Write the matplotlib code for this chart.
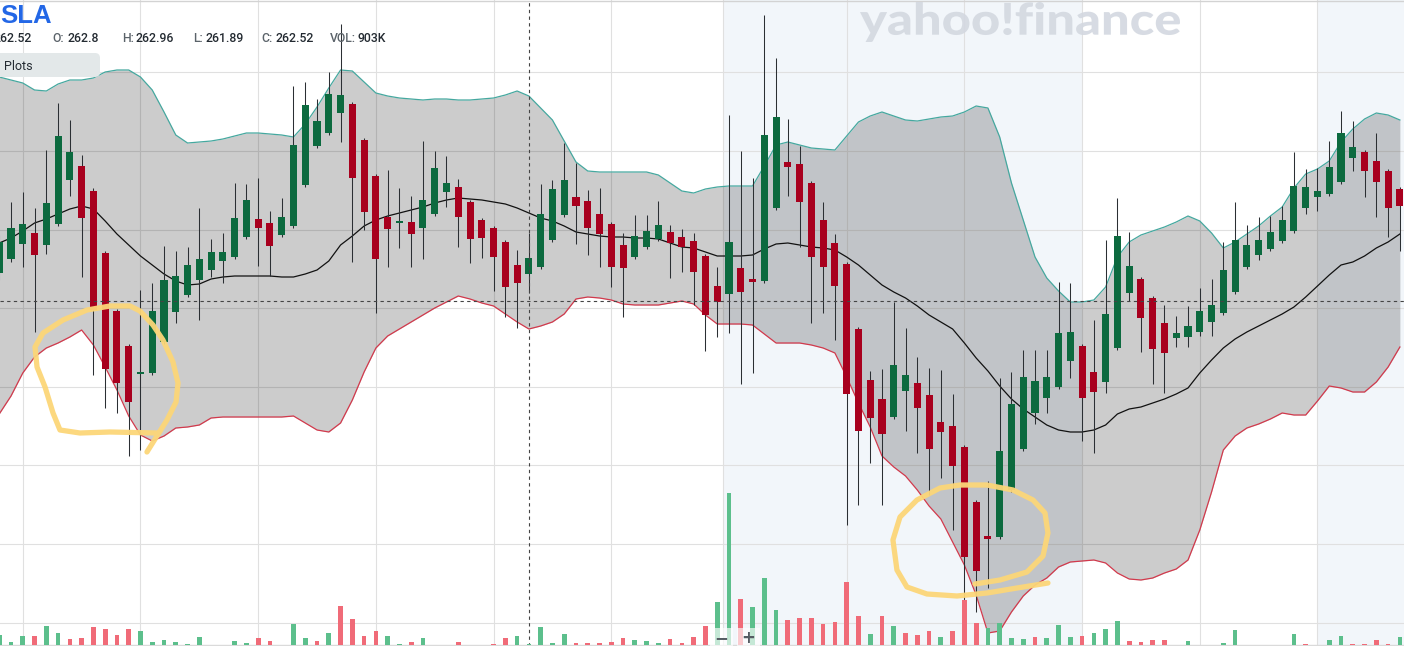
import matplotlib
matplotlib.use("Agg")
import matplotlib.pyplot as plt
import numpy as np
from matplotlib.patches import FancyBboxPatch, Rectangle, PathPatch
from matplotlib.textpath import TextPath
from matplotlib.font_manager import FontProperties
from matplotlib.transforms import Affine2D

# 1-minute candles, TSLA
opens = [263.77, 263.91, 264.06, 264.17, 264.05, 264.26, 264.70, 264.84, 264.59, 263.97,
         263.39, 263.04, 262.76, 262.77, 263.08, 263.38, 263.55, 263.70, 263.80, 263.89,
         263.93, 264.13, 264.31, 264.27, 264.15, 264.24, 264.65, 265.04, 265.17, 265.37,
         265.46, 265.10, 264.74, 264.33, 264.27, 264.28, 264.22, 264.36, 264.58, 264.63,
         264.48, 264.30, 264.22, 264.08, 263.85, 263.76, 263.83, 264.10, 264.35, 264.53,
         264.49, 264.36, 264.26, 264.05, 263.93, 264.03, 264.11, 264.18, 264.13, 264.09,
         263.94, 263.64, 263.56, 263.82, 263.71, 263.69, 264.42, 264.88, 264.86, 264.67,
         264.30, 264.07, 263.86, 263.21, 262.70, 262.51, 262.33, 262.59, 262.67, 262.55,
         262.28, 262.24, 262.03, 261.48, 261.14, 261.13, 261.60, 262.01, 262.37, 262.52,
         262.63, 262.89, 263.04, 262.78, 262.68, 263.02, 263.57, 263.71, 263.52, 263.27,
         263.12, 263.13, 263.18, 263.28, 263.37, 263.58, 263.83, 263.95, 264.01, 264.09,
         264.19, 264.42, 264.53, 264.56, 264.68, 264.92, 264.98, 264.89, 264.79, 264.61]
highs = [264.15, 264.48, 264.58, 264.42, 265.00, 265.47, 265.30, 264.95, 264.62, 263.99,
         263.41, 263.06, 263.60, 263.67, 264.04, 263.99, 264.03, 264.42, 264.11, 264.17,
         264.67, 264.66, 264.72, 264.39, 264.52, 265.64, 265.68, 265.51, 265.78, 266.26,
         265.48, 265.12, 264.76, 264.80, 264.62, 264.54, 265.09, 264.99, 264.94, 264.71,
         264.50, 264.32, 264.24, 264.10, 264.00, 264.17, 264.66, 264.70, 265.07, 264.87,
         264.60, 264.62, 264.28, 264.17, 264.35, 264.35, 264.49, 264.25, 264.21, 264.17,
         263.96, 263.83, 265.35, 264.99, 264.72, 266.35, 265.92, 265.31, 265.04, 264.69,
         264.48, 264.16, 263.88, 263.23, 262.79, 262.81, 263.48, 263.22, 262.93, 262.82,
         262.80, 262.56, 262.05, 261.50, 261.69, 262.72, 262.78, 263.00, 263.00, 263.00,
         263.68, 263.67, 263.06, 263.30, 264.10, 264.52, 264.18, 263.73, 263.54, 263.45,
         263.34, 263.44, 263.62, 263.71, 264.08, 264.48, 264.25, 264.33, 264.34, 264.44,
         264.98, 264.81, 264.82, 265.09, 265.39, 265.29, 265.00, 265.17, 264.81, 264.63]
lows = [263.70, 263.88, 263.83, 263.18, 263.96, 264.24, 264.54, 263.73, 262.75, 262.42,
        262.37, 261.94, 262.00, 262.75, 263.06, 263.27, 263.53, 263.30, 263.73, 263.67,
        263.91, 264.11, 263.84, 263.74, 264.13, 264.22, 264.63, 265.02, 265.15, 265.08,
        263.88, 264.20, 263.37, 263.83, 264.02, 263.83, 263.91, 264.34, 264.43, 264.03,
        263.87, 263.92, 263.59, 263.33, 263.22, 263.57, 263.81, 264.08, 264.33, 264.06,
        263.95, 263.83, 263.63, 263.33, 263.91, 264.01, 264.09, 263.72, 263.78, 263.45,
        262.99, 263.13, 263.17, 262.66, 262.77, 263.67, 264.40, 264.54, 264.03, 263.27,
        263.37, 263.10, 261.25, 261.45, 261.87, 261.45, 262.31, 262.19, 261.97, 261.55,
        261.72, 261.20, 260.17, 260.38, 260.62, 261.11, 261.58, 261.99, 262.26, 262.37,
        262.61, 262.72, 262.09, 261.97, 262.57, 263.00, 263.49, 262.98, 262.66, 262.57,
        263.03, 263.03, 263.14, 263.14, 263.35, 263.56, 263.81, 263.90, 263.99, 264.07,
        264.17, 264.36, 264.39, 264.54, 264.66, 264.79, 264.53, 264.33, 264.13, 263.99]
closes = [264.08, 264.22, 264.26, 263.95, 264.47, 265.14, 264.98, 264.32, 263.40, 262.81,
          262.67, 262.48, 262.78, 263.39, 263.70, 263.74, 263.85, 263.91, 263.98, 263.98,
          264.32, 264.50, 264.22, 264.04, 264.33, 265.05, 265.45, 265.29, 265.56, 265.55,
          264.72, 264.38, 263.91, 264.21, 264.29, 264.16, 264.50, 264.82, 264.67, 264.33,
          264.11, 264.12, 263.93, 263.63, 263.67, 263.92, 264.36, 264.61, 264.70, 264.44,
          264.22, 264.16, 263.83, 263.82, 264.14, 264.19, 264.25, 264.07, 264.03, 263.78,
          263.35, 263.48, 264.08, 263.58, 263.68, 265.15, 265.33, 264.83, 264.48, 263.93,
          263.83, 263.64, 262.56, 262.19, 262.32, 262.16, 262.85, 262.75, 262.42, 262.01,
          262.18, 261.84, 260.93, 260.79, 261.11, 261.99, 262.46, 262.73, 262.69, 262.73,
          263.17, 263.18, 262.52, 262.58, 263.36, 264.14, 263.84, 263.32, 263.01, 262.97,
          263.17, 263.24, 263.39, 263.45, 263.80, 264.10, 264.05, 264.10, 264.18, 264.30,
          264.64, 264.63, 264.59, 264.83, 265.17, 265.03, 264.79, 264.68, 264.42, 264.44]

# Bollinger bands (20, 2) as shown
bb_upper = [265.73, 265.70, 265.67, 265.60, 265.59, 265.66, 265.70, 265.70, 265.72, 265.78,
            265.80, 265.80, 265.73, 265.60, 265.38, 265.15, 265.07, 265.08, 265.09, 265.11,
            265.14, 265.17, 265.17, 265.16, 265.15, 265.13, 265.26, 265.43, 265.62, 265.80,
            265.79, 265.68, 265.57, 265.54, 265.52, 265.51, 265.50, 265.51, 265.51, 265.50,
            265.50, 265.51, 265.52, 265.55, 265.59, 265.54, 265.42, 265.30, 265.09, 264.88,
            264.79, 264.78, 264.78, 264.78, 264.78, 264.78, 264.75, 264.67, 264.59, 264.57,
            264.61, 264.63, 264.64, 264.64, 264.64, 264.84, 265.05, 265.08, 265.05, 265.02,
            265.01, 265.00, 265.14, 265.28, 265.34, 265.38, 265.34, 265.30, 265.29, 265.31,
            265.33, 265.34, 265.38, 265.44, 265.42, 265.13, 264.67, 264.30, 263.93, 263.72,
            263.59, 263.48, 263.48, 263.50, 263.63, 263.93, 264.08, 264.15, 264.19, 264.23,
            264.28, 264.34, 264.29, 264.17, 264.02, 264.08, 264.16, 264.24, 264.34, 264.43,
            264.62, 264.76, 264.81, 264.89, 265.08, 265.21, 265.31, 265.37, 265.35, 265.30]
bb_mid = [264.07, 264.12, 264.19, 264.27, 264.31, 264.36, 264.41, 264.44, 264.41, 264.29,
          264.16, 264.05, 263.94, 263.85, 263.76, 263.69, 263.65, 263.66, 263.71, 263.73,
          263.74, 263.74, 263.74, 263.74, 263.73, 263.73, 263.76, 263.80, 263.89, 264.05,
          264.14, 264.24, 264.30, 264.34, 264.37, 264.40, 264.43, 264.47, 264.50, 264.52,
          264.51, 264.50, 264.48, 264.46, 264.42, 264.37, 264.32, 264.29, 264.24, 264.18,
          264.16, 264.14, 264.13, 264.13, 264.12, 264.12, 264.11, 264.07, 264.03, 264.02,
          263.98, 263.94, 263.94, 263.94, 263.95, 264.01, 264.06, 264.07, 264.05, 264.03,
          264.02, 264.00, 263.93, 263.85, 263.75, 263.65, 263.58, 263.52, 263.44, 263.35,
          263.28, 263.21, 263.07, 262.92, 262.79, 262.64, 262.51, 262.41, 262.33, 262.25,
          262.20, 262.18, 262.18, 262.20, 262.25, 262.36, 262.41, 262.43, 262.47, 262.51,
          262.56, 262.62, 262.77, 262.90, 263.02, 263.11, 263.18, 263.24, 263.30, 263.36,
          263.43, 263.53, 263.64, 263.75, 263.85, 263.88, 263.94, 264.02, 264.08, 264.16]
bb_lower = [262.36, 262.54, 262.77, 262.93, 263.02, 263.07, 263.13, 263.20, 263.05, 262.83,
            262.60, 262.34, 262.15, 262.09, 262.14, 262.22, 262.23, 262.25, 262.32, 262.33,
            262.33, 262.33, 262.33, 262.33, 262.33, 262.34, 262.27, 262.20, 262.18, 262.27,
            262.50, 262.78, 263.02, 263.14, 263.21, 263.28, 263.35, 263.42, 263.48, 263.54,
            263.51, 263.47, 263.44, 263.36, 263.28, 263.21, 263.24, 263.28, 263.36, 263.51,
            263.53, 263.52, 263.50, 263.46, 263.45, 263.45, 263.45, 263.47, 263.49, 263.46,
            263.35, 263.26, 263.26, 263.26, 263.25, 263.16, 263.07, 263.07, 263.07, 263.05,
            263.02, 262.97, 262.73, 262.47, 262.23, 261.94, 261.83, 261.74, 261.60, 261.44,
            261.31, 261.08, 260.85, 260.55, 260.17, 260.19, 260.38, 260.54, 260.65, 260.72,
            260.83, 260.88, 260.89, 260.90, 260.87, 260.77, 260.71, 260.70, 260.72, 260.77,
            260.81, 260.90, 261.20, 261.58, 262.00, 262.14, 262.22, 262.26, 262.31, 262.37,
            262.35, 262.35, 262.49, 262.64, 262.62, 262.58, 262.58, 262.68, 262.83, 263.03]

# volume, thousands of shares
volume_k = [100, 30, 90, 90, 190, 120, 60, 70, 180, 160,
            100, 160, 140, 30, 50, 30, 10, 80, 5, 5,
            40, 20, 70, 40, 5, 210, 70, 40, 120, 390,
            260, 90, 140, 90, 10, 30, 70, 5, 5, 30,
            5, 5, 10, 70, 90, 10, 180, 20, 110, 20,
            20, 20, 30, 70, 50, 40, 20, 60, 20, 80,
            190, 430, 1520, 460, 380, 670, 350, 250, 270, 270,
            210, 230, 630, 290, 110, 290, 190, 120, 100, 140,
            80, 140, 450, 220, 170, 220, 70, 60, 80, 70,
            200, 80, 90, 120, 160, 240, 40, 30, 50, 50,
            5, 40, 5, 5, 20, 150, 5, 5, 5, 5,
            110, 10, 5, 50, 90, 10, 10, 50, 10, 80]

header_labels = ["", "O:", "H:", "L:", "C:", "VOL:"]
header_values = ["262.52", "262.8", "262.96", "261.89", "262.52", "903K"]

# extended-hours shading (candle index ranges) and crosshair
shade_spans = [(61.5, 92.07), (112.05, 121)]
cross_idx, cross_price = 45, 263.49

# freehand highlight loops (candle index, price)
loop_left = [(13.40, 262.17), (9.41, 262.18), (6.86, 262.17), (5.16, 262.20), (4.57, 262.37),
             (3.89, 262.63), (3.21, 262.83), (3.04, 263.03), (3.72, 263.17), (5.42, 263.30),
             (7.46, 263.40), (9.41, 263.44), (11.11, 263.44), (11.96, 263.39), (13.06, 263.25),
             (13.91, 263.10), (14.76, 262.88), (15.19, 262.67), (15.02, 262.48), (14.25, 262.30),
             (13.40, 262.14), (12.55, 261.98)]
loop_right = [(82.90, 260.66), (85.03, 260.70), (87.32, 260.78), (88.68, 260.94), (89.10, 261.17),
              (88.85, 261.37), (87.83, 261.50), (86.13, 261.60), (83.92, 261.65), (81.63, 261.65),
              (79.93, 261.62), (77.97, 261.50), (76.53, 261.33), (75.93, 261.10), (76.27, 260.80),
              (77.12, 260.63), (78.82, 260.56), (81.37, 260.54), (83.92, 260.57), (86.47, 260.62),
              (89.10, 260.67)]

W, H = 1404, 646
GREEN, RED = "#0c6a3f", "#a8001e"
VGREEN, VRED = "#5cbf8c", "#f06b78"

fig = plt.figure(figsize=(W / 100, H / 100), dpi=100)
fig.patch.set_facecolor("white")
ax = fig.add_axes([0, 0, 1, 1])
ax.set_xlim(0.065, 119.35)
ax.set_ylim(260.04, 266.50)
ax.axis("off")

idx = np.arange(len(opens))
o = np.array(opens); c = np.array(closes)
hi = np.array(highs); lo = np.array(lows)

for a, b in shade_spans:
    ax.axvspan(a, b, color="#f2f6fa", lw=0, zorder=0)

# grid
for gy in 265.777 - 0.786 * np.arange(8):
    ax.axhline(gy, color="#e0e0e0", lw=0.8, zorder=1)
for gx in [2, 12, 22, 32, 42, 52, 61.5, 72, 82, 92, 102, 112]:
    ax.axvline(gx, color="#e0e0e0", lw=0.8, zorder=1)
ax.axhline(266.49, color="#d3d3d3", lw=1, zorder=1)

# bollinger bands
ax.fill_between(idx, bb_lower, bb_upper, color="black", alpha=0.2, lw=0, zorder=2)
ax.plot(idx, bb_upper, color="#45a89f", lw=0.9, zorder=3)
ax.plot(idx, bb_lower, color="#d2394c", lw=0.9, zorder=3)
ax.plot(idx, bb_mid, color="#111111", lw=0.9, zorder=3)

# candles
up = c >= o
ax.vlines(idx, lo, hi, color="#2b2f33", lw=0.75, zorder=4)
body = np.maximum(np.abs(c - o), 0.02)
ax.bar(idx, body, bottom=np.minimum(o, c), width=0.6,
       color=np.where(up, GREEN, RED), lw=0, zorder=5)

# crosshair
ax.axhline(cross_price, color="#444444", lw=0.8, ls=(0, (3, 3)), zorder=6)
ax.axvline(cross_idx, color="#444444", lw=0.8, ls=(0, (3, 3)), zorder=6)

# volume pane
vax = fig.add_axes([0, 0, 1, 1])
vax.set_xlim(ax.get_xlim())
vax.set_ylim(-10, 6450)
vax.axis("off")
vax.patch.set_alpha(0)
prev = np.concatenate([[c[0]], c[:-1]])
vcol = np.where(c >= prev, VGREEN, VRED)
vax.bar(idx, volume_k, width=0.4, color=vcol, lw=0, zorder=2)
vax.axhline(0, color="#dadada", lw=1, zorder=1)

# highlight loops
for loop in (loop_left, loop_right):
    lx, ly = zip(*loop)
    vax.plot(lx, ly, color="#fcd678", lw=3.8, alpha=0.95, solid_capstyle="round",
             solid_joinstyle="round", transform=ax.transData, zorder=10)

# pixel helper for chrome
px = Affine2D().scale(1 / W, 1 / H) + fig.transFigure

# zoom buttons
for bx, sym in [(710, "\u2212"), (737, "+")]:
    fig.add_artist(Rectangle((bx, 0), 23, 18, transform=px, color="white", alpha=0.65, lw=0))
    fig.text((bx + 11.5) / W, 8 / H, sym, ha="center", va="center", fontsize=12,
             fontweight="bold", color="#555c63")

# header
fig.text(0.5 / W, 1 - 23 / H, "SLA", fontsize=18.5, fontweight="bold", color="#2367e6",
         family="Liberation Sans", va="baseline")
label_x = [-20, 52, 122, 193, 261, 330]
value_x = [-6, 67, 135, 205, 275, 358]
for lab, val, lx, vx in zip(header_labels, header_values, label_x, value_x):
    if lab:
        fig.text(lx / W, 1 - 39 / H, lab, fontsize=8.8, color="#5b636a",
                 family="Roboto", fontweight="medium", va="center")
    fig.text(vx / W, 1 - 39 / H, val, fontsize=8.8, color="#232a31",
             family="Roboto", fontweight="medium", va="center")

fig.add_artist(FancyBboxPatch((-10, H - 77), 110, 24, boxstyle="round,pad=0,rounding_size=5",
                              transform=px, color="#e3e8e9", lw=0))
fig.text(4 / W, 1 - 66 / H, "Plots", fontsize=9, color="#232a31", family="Roboto",
         va="center")

# watermark
tp = TextPath((0, 0), "yahoo!finance", size=1,
              prop=FontProperties(family=["Lato", "DejaVu Sans"], weight="black"))
ext = tp.get_extents()
wm = Affine2D().translate(-ext.x0, -ext.y0).scale(320 / ext.width, 40 / ext.height) \
    .translate(860, H - 42)
fig.add_artist(PathPatch(tp, transform=wm + px, color="#d3d8e0", lw=0, alpha=0.9))

fig.savefig("out.png", dpi=100)
